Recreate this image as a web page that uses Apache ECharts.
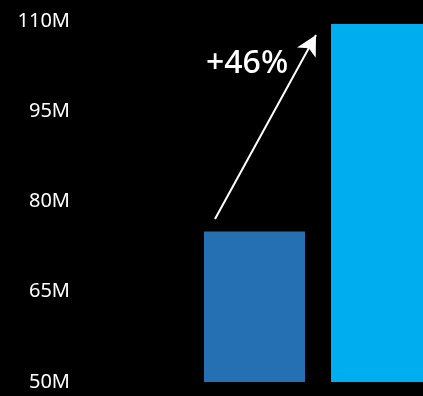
<!DOCTYPE html>
<html><head><meta charset="utf-8">
<style>html,body{margin:0;padding:0;background:#000;}#c{width:423px;height:396px;}</style>
<script src="https://cdn.jsdelivr.net/npm/echarts@6/dist/echarts.min.js"></script>
</head><body><div id="c"></div>
<script>
const categories = ['Before', 'After'];
const values = [75, 109.5];
const barColors = ['#2470B3', '#00AEEF'];
const yTicks = { min: 50, max: 110, interval: 15 };
const changeLabel = '+46%';

const chart = echarts.init(document.getElementById('c'), null, { renderer: 'canvas' });
chart.setOption({
  backgroundColor: '#000',
  animation: false,
  grid: { left: 191, top: 21, right: 0, bottom: 14, containLabel: false },
  xAxis: {
    type: 'value', min: -0.5, max: 1.3268,
    splitLine: { show: false }, axisLine: { show: false }, axisTick: { show: false }, axisLabel: { show: false }
  },
  yAxis: {
    type: 'value', min: yTicks.min, max: yTicks.max, interval: yTicks.interval,
    splitLine: { show: false }, axisLine: { show: false }, axisTick: { show: false },
    axisLabel: {
      color: '#fff', fontSize: 20, fontFamily: 'Noto Sans', margin: 121,
      formatter: v => v + 'M'
    }
  },
  series: [{
    type: 'bar', barWidth: 101,
    data: categories.map((c, i) => ({ name: c, value: [i, values[i]], itemStyle: { color: barColors[i] } })),
    markLine: {
      silent: true, symbol: ['none', 'arrow'], symbolSize: [16, 20],
      lineStyle: { color: '#fff', width: 2, type: 'solid' },
      label: { show: false },
      data: [[{ x: 215, y: 219 }, { x: 316, y: 35 }]]
    }
  }],
  graphic: [{
    type: 'text', left: 206, top: 48,
    style: { text: changeLabel, fill: '#fff', fontSize: 32, fontWeight: 500, fontFamily: 'Noto Sans' }
  }]
});
</script></body></html>
